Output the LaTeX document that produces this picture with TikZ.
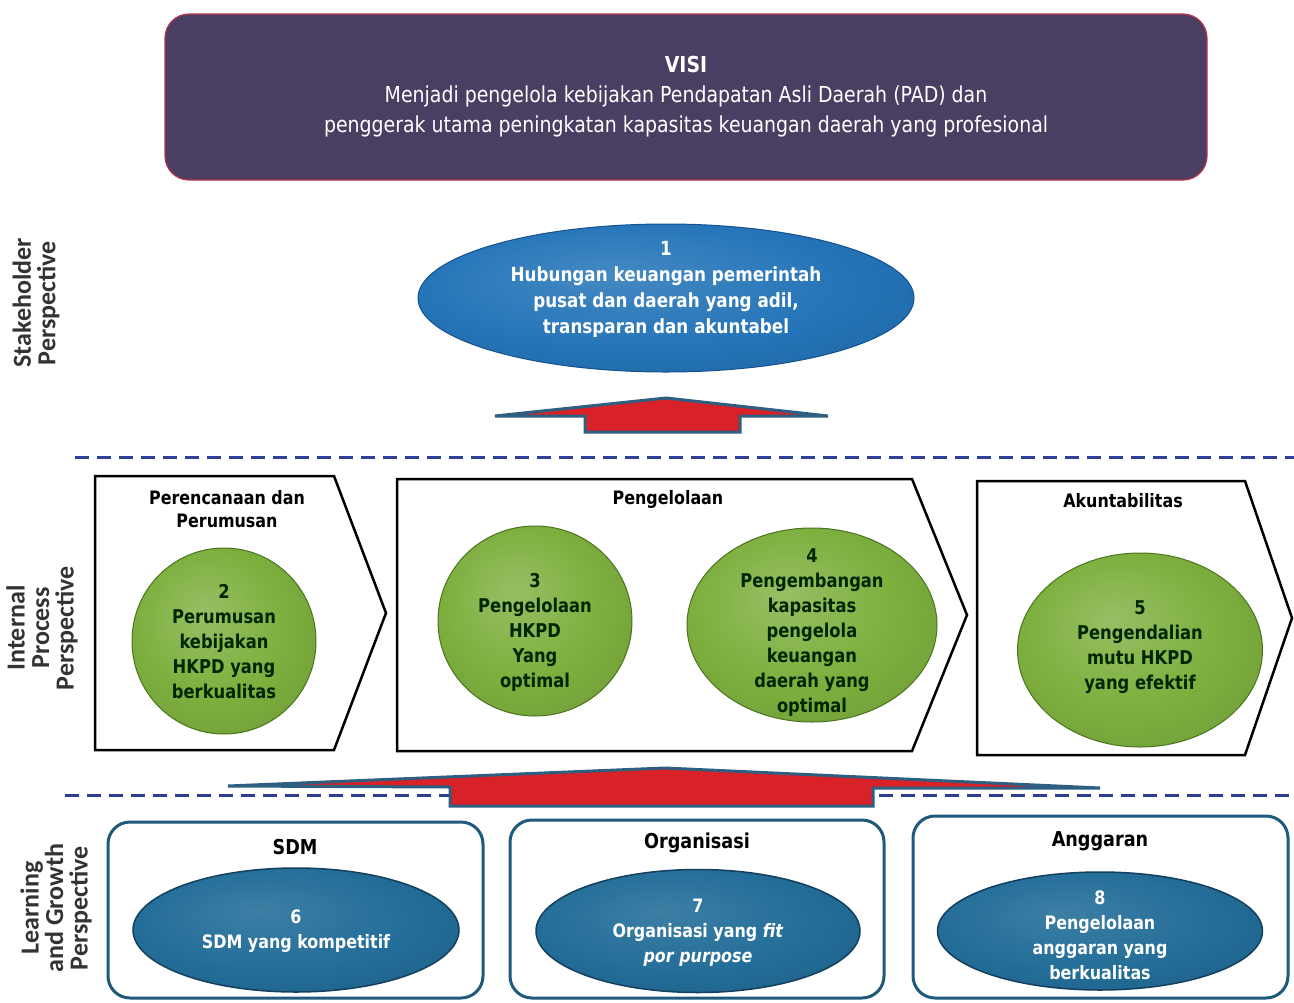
\documentclass[tikz,border=0pt]{standalone}
\usepackage{fontspec}
\setmainfont{DejaVu Sans}[FakeStretch=0.86]
\newfontfamily\perspfont{Carlito}
\usetikzlibrary{shapes.geometric}

\definecolor{visifill}{HTML}{4A3F62}
\definecolor{visiedge}{HTML}{B8334F}
\definecolor{goalblue}{HTML}{2474B8}
\definecolor{goaldark}{HTML}{175290}
\definecolor{lgblue}{HTML}{226D98}
\definecolor{lgdark}{HTML}{143F5E}
\definecolor{ballgreen}{HTML}{7DAF3E}
\definecolor{balldark}{HTML}{4A7420}
\definecolor{arrowred}{HTML}{D92128}
\definecolor{arrowedge}{HTML}{2E5E80}
\definecolor{dashblue}{HTML}{2B3F95}
\definecolor{boxedge}{HTML}{1E5A7C}

\pgfdeclareradialshading{greenball}{\pgfpoint{-6bp}{8bp}}{color(0bp)=(ballgreen!80!white); color(20bp)=(ballgreen); color(38bp)=(ballgreen!88!black); color(50bp)=(balldark)}
\pgfdeclareradialshading{blueball}{\pgfpoint{-6bp}{8bp}}{color(0bp)=(goalblue!85!white); color(22bp)=(goalblue); color(40bp)=(goalblue!85!black); color(50bp)=(goaldark)}
\pgfdeclareradialshading{lgball}{\pgfpoint{-6bp}{8bp}}{color(0bp)=(lgblue!88!white); color(22bp)=(lgblue); color(40bp)=(lgblue!85!black); color(50bp)=(lgdark)}

\begin{document}
\begin{tikzpicture}[x=1pt, y=-1pt,
  persp/.style={font=\perspfont\bfseries\fontsize{26}{24.5}\selectfont, text=black!80, align=center, rotate=90},
  visibox/.style={draw=visiedge, line width=1.2pt, fill=visifill, rounded corners=24pt},
  goal/.style={ellipse, draw=goaldark, line width=1pt, shading=blueball},
  ball/.style={ellipse, draw=balldark, line width=1pt, shading=greenball},
  lgoal/.style={ellipse, draw=lgdark, line width=1.5pt, shading=lgball},
  whitetext/.style={text=white, align=center, font=\bfseries\fontsize{19.5}{26}\selectfont},
  lgtext/.style={text=white, align=center, font=\bfseries\fontsize{18.5}{25}\selectfont},
  balltext/.style={text=black!85!green, align=center, font=\bfseries\fontsize{19}{25}\selectfont},
  head/.style={align=center, font=\bfseries\fontsize{18.5}{23}\selectfont},
  lghead/.style={align=center, font=\bfseries\fontsize{20.5}{24}\selectfont},
  procbox/.style={draw=black, line width=2.5pt, line join=miter},
  lgbox/.style={draw=boxedge, line width=3pt, rounded corners=22pt},
  uparrow/.style={fill=arrowred, draw=arrowedge, line width=3pt, line join=miter},
  divider/.style={dashblue, line width=3pt, dash pattern=on 14pt off 8pt}]

  \useasboundingbox[fill=white] (0,0) rectangle (1294,1002);

  \node[persp] (stake) at (36,303) {Stakeholder\\Perspective};
  \node[persp] (internal) at (42,628) {Internal\\Process\\Perspective};
  \node[persp] (learning) at (56,908) {Learning\\and Growth\\Perspective};

  \node[visibox, minimum width=1042pt, minimum height=166pt] (visi) at (686,97) {};
  \node[text=white, align=center, font=\fontsize{22}{30}\selectfont] (visitext) at (686,97)
    {\textbf{VISI}\\Menjadi pengelola kebijakan Pendapatan Asli Daerah (PAD) dan\\penggerak utama peningkatan kapasitas keuangan daerah yang profesional};

  \node[goal, minimum width=496pt, minimum height=148pt] (g1) at (666,298) {};
  \node[whitetext] (g1text) at (666,289) {1\\Hubungan keuangan pemerintah\\pusat dan daerah yang adil,\\transparan dan akuntabel};

  \draw[uparrow] (495,416) -- (666,398) -- (828,416) -- (740,416) -- (740,432) -- (585,432) -- (585,416) -- cycle;

  \draw[divider] (75,457) -- (1294,457);

  \draw[procbox] (95,476) -- (334,476) -- (386,613) -- (334,750) -- (95,750) -- cycle;
  \draw[procbox] (397,479) -- (912,479) -- (967,615) -- (912,751) -- (397,751) -- cycle;
  \draw[procbox] (977,481) -- (1245,481) -- (1292,618) -- (1245,755) -- (977,755) -- cycle;

  \node[head] (plan) at (227,509) {Perencanaan dan\\Perumusan};
  \node[head] (manage) at (668,499) {Pengelolaan};
  \node[head] (account) at (1123,501) {Akuntabilitas};

  \node[ball, minimum width=184pt, minimum height=186pt] (g2) at (224,641) {};
  \node[ball, minimum width=194pt, minimum height=190pt] (g3) at (535,621) {};
  \node[ball, minimum width=250pt, minimum height=194pt] (g4) at (812,625) {};
  \node[ball, minimum width=245pt, minimum height=194pt] (g5) at (1140,650) {};
  \node[balltext] (g2text) at (224,642) {2\\Perumusan\\kebijakan\\HKPD yang\\berkualitas};
  \node[balltext] (g3text) at (535,632) {3\\Pengelolaan\\HKPD\\Yang\\optimal};
  \node[balltext] (g4text) at (812,633) {4\\Pengembangan\\kapasitas\\pengelola\\keuangan\\daerah yang\\optimal};
  \node[balltext] (g5text) at (1140,647) {5\\Pengendalian\\mutu HKPD\\yang efektif};

  \draw[divider] (65,795) -- (1294,795);
  \draw[uparrow] (228,786) -- (665,768) -- (1100,788) -- (873,788) -- (873,806) -- (450,806) -- (450,787) -- cycle;

  \node[lgbox, minimum width=375pt, minimum height=176pt] (sdmbox) at (295.5,910) {};
  \node[lgbox, minimum width=374pt, minimum height=178pt] (orgbox) at (697,909) {};
  \node[lgbox, minimum width=375pt, minimum height=182pt] (angbox) at (1100.5,907) {};

  \node[lghead] (sdmhead) at (295,847) {SDM};
  \node[lghead] (orghead) at (697,843) {Organisasi};
  \node[lghead] (anghead) at (1100,841) {Anggaran};

  \node[lgoal, minimum width=326pt, minimum height=124pt] (g6) at (296,930) {};
  \node[lgoal, minimum width=324pt, minimum height=123pt] (g7) at (698,931) {};
  \node[lgoal, minimum width=325pt, minimum height=118pt] (g8) at (1100,931) {};
  \node[lgtext] (g6text) at (296,931) {6\\SDM yang kompetitif};
  \node[lgtext] (g7text) at (698,933) {7\\Organisasi yang \textit{fit}\\\textit{por purpose}};
  \node[lgtext] (g8text) at (1100,935) {8\\Pengelolaan\\anggaran yang\\berkualitas};
\end{tikzpicture}
\end{document}
